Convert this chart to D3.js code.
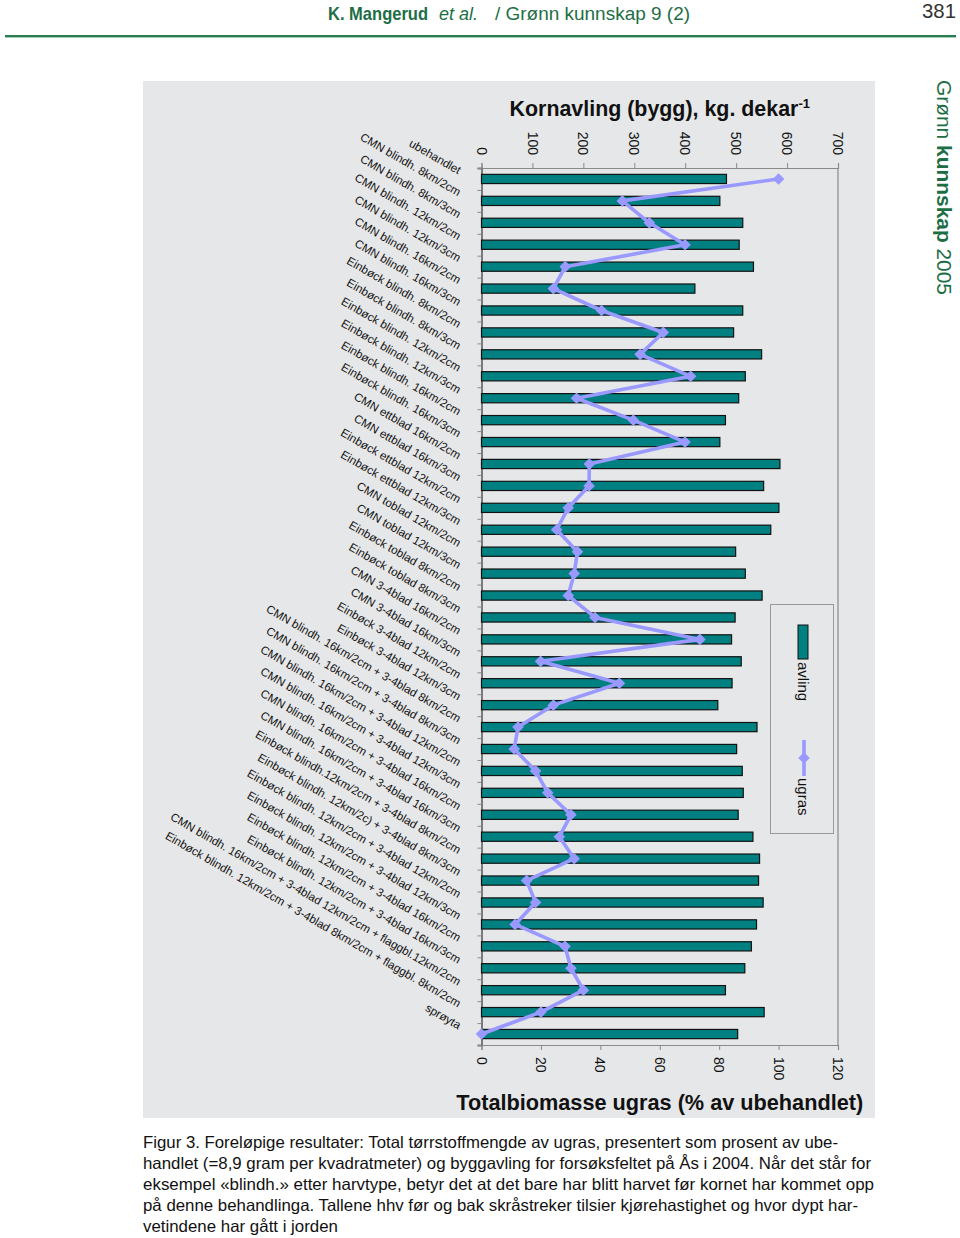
<!DOCTYPE html>
<html><head><meta charset="utf-8">
<script src="https://cdn.jsdelivr.net/npm/d3@7/dist/d3.min.js"></script>
<style>body{margin:0;background:#fff}svg{display:block}</style>
</head><body><script>
const categories = [
"ubehandlet",
"CMN blindh. 8km/2cm","CMN blindh. 8km/3cm","CMN blindh. 12km/2cm","CMN blindh. 12km/3cm",
"CMN blindh. 16km/2cm","CMN blindh. 16km/3cm",
"Einbøck blindh. 8km/2cm","Einbøck blindh. 8km/3cm","Einbøck blindh. 12km/2cm","Einbøck blindh. 12km/3cm",
"Einbøck blindh. 16km/2cm","Einbøck blindh. 16km/3cm",
"CMN ettblad 16km/2cm","CMN ettblad 16km/3cm","Einbøck ettblad 12km/2cm","Einbøck ettblad 12km/3cm",
"CMN toblad 12km/2cm","CMN toblad 12km/3cm","Einbøck toblad 8km/2cm","Einbøck toblad 8km/3cm",
"CMN 3-4blad 16km/2cm","CMN 3-4blad 16km/3cm","Einbøck 3-4blad 12km/2cm","Einbøck 3-4blad 12km/3cm",
"CMN blindh. 16km/2cm + 3-4blad 8km/2cm","CMN blindh. 16km/2cm + 3-4blad 8km/3cm",
"CMN blindh. 16km/2cm + 3-4blad 12km/2cm","CMN blindh. 16km/2cm + 3-4blad 12km/3cm",
"CMN blindh. 16km/2cm + 3-4blad 16km/2cm","CMN blindh. 16km/2cm + 3-4blad 16km/3cm",
"Einbøck blindh.12km/2cm + 3-4blad 8km/2cm","Einbøck blindh. 12km/2c) + 3-4blad 8km/3cm",
"Einbøck blindh. 12km/2cm + 3-4blad 12km/2cm","Einbøck blindh. 12km/2cm + 3-4blad 12km/3cm",
"Einbøck blindh. 12km/2cm + 3-4blad 16km/2cm","Einbøck blindh. 12km/2cm + 3-4blad 16km/3cm",
"CMN blindh. 16km/2cm + 3-4blad 12km/2cm + flaggbl.12km/2cm",
"Einbøck blindh. 12km/2cm + 3-4blad 8km/2cm + flaggbl. 8km/2cm",
"sprøyta"
];
const avling = [481,468,513,506,534,419,513,495,550,518,505,479,468,
586,554,584,568,499,518,551,498,491,510,492,464,
541,501,512,514,504,533,546,544,553,540,530,517,479,555,503];
const ugras = [100,47.4,56.5,68.5,28.2,24.2,40.4,61.2,53.4,70.4,32.0,51.1,68.5,
36.3,36.2,29.2,25.3,32.3,31.2,29.2,38.2,73.5,19.9,46.4,24.2,
12.3,11.0,18.2,22.3,30.1,26.2,31.2,15.2,18.2,11.3,28.1,30.1,34.3,20.0,0];
const avlingTicks = [0,100,200,300,400,500,600,700];
const ugrasTicks = [0,20,40,60,80,100,120];
const captionLines = [
"Figur 3. Foreløpige resultater: Total tørrstoffmengde av ugras, presentert som prosent av ube-",
"handlet (=8,9 gram per kvadratmeter) og byggavling for forsøksfeltet på Ås i 2004. Når det står for",
"eksempel «blindh.» etter harvtype, betyr det at det bare har blitt harvet før kornet har kommet opp",
"på denne behandlinga. Tallene hhv før og bak skråstreker tilsier kjørehastighet og hvor dypt har-",
"vetindene har gått i jorden"
];
const captionWidths = [695,728,731,715,195];

const W=960,H=1238;
const FONT="'Liberation Sans', Arial, Helvetica, sans-serif";
const svg=d3.select("body").append("svg").attr("width",W).attr("height",H)
  .style("font-family",FONT);

// header
const green="#1d6e45";
const hdr=svg.append("g").attr("fill",green).style("font-family","'Liberation Sans Narrow','Liberation Sans',sans-serif").attr("font-size",19);
hdr.append("text").attr("x",328).attr("y",20).attr("font-weight","bold").attr("textLength",100).attr("lengthAdjust","spacingAndGlyphs").text("K. Mangerud");
hdr.append("text").attr("x",439).attr("y",20).attr("font-style","italic").attr("textLength",39).attr("lengthAdjust","spacingAndGlyphs").text("et al.");
hdr.append("text").attr("x",495).attr("y",20).attr("textLength",195).attr("lengthAdjust","spacingAndGlyphs").text("/ Grønn kunnskap 9 (2)");
svg.append("text").attr("x",956).attr("y",18).attr("text-anchor","end").attr("font-size",21).attr("fill","#333")
  .style("font-family","'Liberation Sans Narrow','Liberation Sans',sans-serif").attr("textLength",34).attr("lengthAdjust","spacingAndGlyphs").text("381");
svg.append("rect").attr("x",5).attr("y",35).attr("width",951).attr("height",2).attr("fill","#2a7d52");
svg.append("rect").attr("x",5).attr("y",37).attr("width",951).attr("height",1).attr("fill","#9fd0b4");

// chart background
svg.append("rect").attr("x",143).attr("y",81).attr("width",732).attr("height",1037).attr("fill","#e6e7e8");

// side label
const side=svg.append("text").attr("transform","translate(937,80) rotate(90)").attr("fill",green).attr("font-size",20)
  .attr("textLength",215).attr("lengthAdjust","spacingAndGlyphs");
side.append("tspan").text("Grønn ");
side.append("tspan").attr("font-weight","bold").text("kunnskap");
side.append("tspan").text(" 2005");

// scales
const x0=481.5,x1=838,y0=168,y1=1045;
const xA=d3.scaleLinear().domain([0,700]).range([x0,x1]);
const xU=d3.scaleLinear().domain([0,120]).range([x0,x1]);
const yB=d3.scaleBand().domain(d3.range(categories.length)).range([y0,y1]).paddingInner(0.58).paddingOuter(0.29);
const yC=i=>yB(i)+yB.bandwidth()/2;

// frame
const axisCol="#8a8a8a";
svg.append("line").attr("x1",x1).attr("x2",x1).attr("y1",y0).attr("y2",y1).attr("stroke",axisCol).attr("stroke-width",1.2);

// top axis
const gTop=svg.append("g").attr("transform",`translate(0,${y0})`)
  .call(d3.axisTop(xA).tickValues(avlingTicks).tickSize(5).tickFormat(""));
gTop.select(".domain").attr("stroke",axisCol).attr("stroke-width",1.2);
gTop.selectAll(".tick line").attr("stroke",axisCol);
svg.append("g").selectAll("text").data(avlingTicks).join("text")
  .attr("transform",d=>`translate(${xA(d)},155) rotate(90)`).attr("text-anchor","end").attr("dy","0.35em")
  .attr("font-size",14).attr("fill","#111").text(d=>d);

// bottom axis
const gBot=svg.append("g").attr("transform",`translate(0,${y1})`)
  .call(d3.axisBottom(xU).tickValues(ugrasTicks).tickSize(5).tickFormat(""));
gBot.select(".domain").attr("stroke",axisCol).attr("stroke-width",1.2);
gBot.selectAll(".tick line").attr("stroke",axisCol);
svg.append("g").selectAll("text").data(ugrasTicks).join("text")
  .attr("transform",d=>`translate(${xU(d)},1057) rotate(90)`).attr("text-anchor","start").attr("dy","0.35em")
  .attr("font-size",14).attr("fill","#111").text(d=>d);

// left axis (category boundaries)
const yIdx=d3.scaleLinear().domain([0,categories.length]).range([y0,y1]);
const gLeft=svg.append("g").attr("transform",`translate(${x0},0)`)
  .call(d3.axisLeft(yIdx).tickValues(d3.range(categories.length+1)).tickSize(4).tickFormat(""));
gLeft.select(".domain").attr("stroke","#7a7a7a").attr("stroke-width",2);
gLeft.selectAll(".tick line").attr("stroke",axisCol);

// bars
svg.append("g").selectAll("rect").data(avling).join("rect")
  .attr("x",xA(0)).attr("y",(d,i)=>yB(i)).attr("width",d=>xA(d)-xA(0)).attr("height",yB.bandwidth())
  .attr("fill","#008080").attr("stroke","#111").attr("stroke-width",1.2);

// line
const line=d3.line().x(d=>xU(d)).y((d,i)=>yC(i));
svg.append("path").datum(ugras).attr("d",line).attr("fill","none").attr("stroke","#9999ff").attr("stroke-width",3.6).attr("stroke-linejoin","round");
const dia=d3.symbol(d3.symbolSquare,68);
svg.append("g").selectAll("path").data(ugras).join("path")
  .attr("d",dia).attr("transform",(d,i)=>`translate(${xU(d)},${yC(i)}) rotate(45)`).attr("fill","#9999ff");

// category labels
svg.append("g").selectAll("text").data(categories).join("text")
  .attr("transform",(d,i)=>`translate(460,${yC(i)-8}) rotate(30)`).attr("text-anchor","end").attr("dy","0.35em")
  .attr("font-size",11.6).attr("fill","#111").text(d=>d);

// titles
const t1=svg.append("text").attr("x",(x0+x1)/2).attr("y",116).attr("text-anchor","middle").attr("font-size",21.4).attr("font-weight","bold").attr("fill","#111");
t1.append("tspan").text("Kornavling (bygg), kg. dekar");
t1.append("tspan").attr("font-size",13).attr("dy",-8).text("-1");
svg.append("text").attr("x",(x0+x1)/2).attr("y",1110).attr("text-anchor","middle").attr("font-size",21.7).attr("font-weight","bold").attr("fill","#111")
  .text("Totalbiomasse ugras (% av ubehandlet)");

// legend
svg.append("rect").attr("x",770.5).attr("y",604.5).attr("width",63).attr("height",229).attr("fill","none").attr("stroke","#999");
svg.append("rect").attr("x",798).attr("y",625).attr("width",10).attr("height",34).attr("fill","#008080").attr("stroke","#111");
svg.append("text").attr("transform","translate(803,662) rotate(90)").attr("dy","0.35em").attr("font-size",15).attr("fill","#111").text("avling");
svg.append("line").attr("x1",804).attr("x2",804).attr("y1",740).attr("y2",776).attr("stroke","#9999ff").attr("stroke-width",3.6);
svg.append("path").attr("d",dia).attr("transform","translate(804,758) rotate(45)").attr("fill","#9999ff");
svg.append("text").attr("transform","translate(803,778) rotate(90)").attr("dy","0.35em").attr("font-size",15).attr("fill","#111").text("ugras");

// caption
svg.append("g").selectAll("text").data(captionLines).join("text")
  .attr("x",143).attr("y",(d,i)=>1148+i*21).attr("font-size",16.5).attr("fill","#111")
  .attr("textLength",(d,i)=>captionWidths[i]).attr("lengthAdjust","spacingAndGlyphs").text(d=>d);
</script></body></html>
